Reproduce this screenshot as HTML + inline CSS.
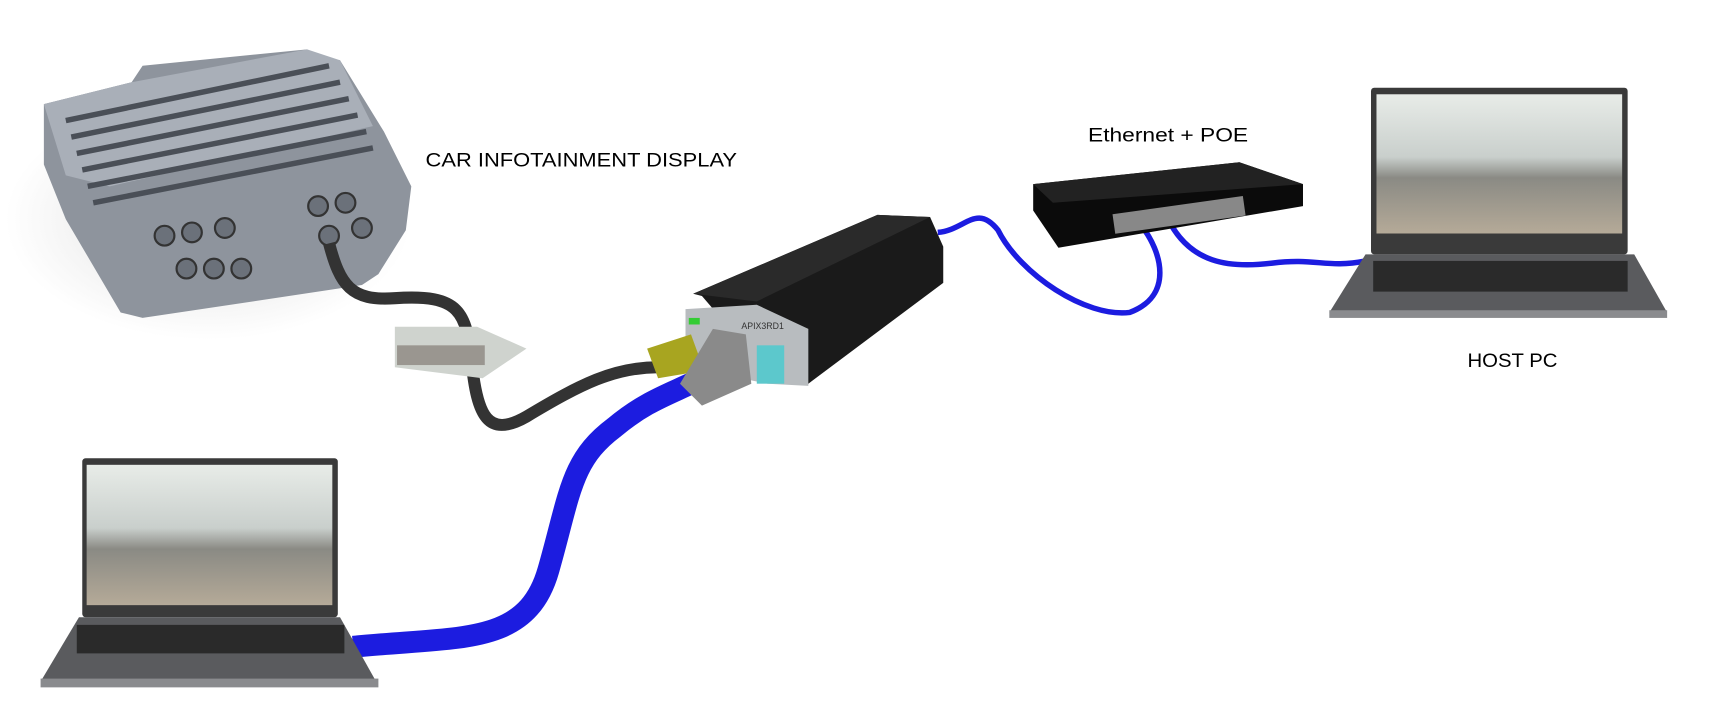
<!DOCTYPE html>
<html><head><style>html,body{margin:0;padding:0;background:#fff;}svg{display:block}</style></head>
<body>
<svg width="1711" height="706" viewBox="0 0 1560 644" preserveAspectRatio="none" xmlns="http://www.w3.org/2000/svg" font-family="Liberation Sans, sans-serif">
<defs>
<linearGradient id="scr" x1="0" y1="0" x2="0" y2="1"><stop offset="0" stop-color="#e8ece8"/><stop offset="0.45" stop-color="#c9cfcc"/><stop offset="0.6" stop-color="#8a8a84"/><stop offset="1" stop-color="#b5aa98"/></linearGradient>
<radialGradient id="sh" cx="0.5" cy="0.5" r="0.5"><stop offset="0" stop-color="#ddd"/><stop offset="1" stop-color="#fff"/></radialGradient>
</defs>
<ellipse cx="190" cy="200" rx="185" ry="110" fill="url(#sh)"/>
<polygon points="40,95 120,75 130,60 280,45 285,55 310,55 350,120 375,170 370,210 345,250 330,260 130,290 110,285 60,200 40,150" fill="#8e949d"/>
<polygon points="40,95 120,75 280,45 310,55 340,115 100,170 60,160" fill="#a9afb8"/>
<g stroke="#4a4f57" stroke-width="5">
<line x1="60" y1="110" x2="300" y2="60"/><line x1="65" y1="125" x2="310" y2="75"/><line x1="70" y1="140" x2="318" y2="90"/><line x1="75" y1="155" x2="326" y2="105"/><line x1="80" y1="170" x2="334" y2="120"/><line x1="85" y1="185" x2="340" y2="135"/>
</g>
<g fill="#6b717a" stroke="#333" stroke-width="2">
<circle cx="150" cy="215" r="9"/><circle cx="175" cy="212" r="9"/><circle cx="205" cy="208" r="9"/><circle cx="170" cy="245" r="9"/><circle cx="195" cy="245" r="9"/><circle cx="220" cy="245" r="9"/><circle cx="290" cy="188" r="9"/><circle cx="315" cy="185" r="9"/><circle cx="300" cy="215" r="9"/><circle cx="330" cy="208" r="9"/>
</g>
<text x="388" y="152" font-size="18" fill="#000" textLength="284" lengthAdjust="spacingAndGlyphs">CAR INFOTAINMENT DISPLAY</text>
<text x="992" y="129" font-size="18" fill="#000" textLength="146" lengthAdjust="spacingAndGlyphs">Ethernet + POE</text>
<text x="1338" y="335" font-size="18" fill="#000" textLength="82" lengthAdjust="spacingAndGlyphs">HOST PC</text>
<path d="M300,222 C310,260 320,275 360,272 C420,268 425,285 430,330 C435,380 445,400 480,380 C530,350 560,335 600,335" fill="none" stroke="#333" stroke-width="11"/>
<polygon points="360,298 435,298 480,318 440,345 360,335" fill="#cfd3ce"/>
<rect x="362" y="315" width="80" height="18" fill="#9a9690"/>
<path d="M322,590 C420,580 480,590 500,520 C520,450 520,420 560,390 C590,365 610,360 640,345" fill="none" stroke="#1c1ce0" stroke-width="20"/>
<path d="M855,212 C880,210 890,185 910,210 C930,250 990,290 1030,285 C1070,270 1060,230 1040,205" fill="none" stroke="#1c1ce0" stroke-width="5"/>
<path d="M1065,200 C1085,240 1120,245 1160,240 C1200,235 1210,245 1245,238" fill="none" stroke="#1c1ce0" stroke-width="5"/>
<polygon points="942,168 1130,148 1188,168 1188,188 965,226 942,192" fill="#0b0b0b"/>
<polygon points="942,168 1130,148 1188,168 960,185" fill="#222"/>
<rect x="1015" y="187" width="120" height="18" fill="#888" transform="rotate(-8 1075 196)"/>
<polygon points="632,268 800,196 848,198 860,225 860,258 737,350 700,340 640,270" fill="#1a1a1a"/>
<polygon points="632,268 800,196 848,198 690,275" fill="#2a2a2a"/>
<polygon points="625,282 690,278 737,300 737,352 700,350 625,335" fill="#b8bcbf"/>
<rect x="690" y="315" width="25" height="35" fill="#5cc8cc"/>
<rect x="628" y="290" width="10" height="6" fill="#3c3"/>
<polygon points="590,318 630,305 642,338 600,345" fill="#a8a520"/>
<polygon points="620,350 650,300 680,305 685,350 640,370" fill="#8a8a8a"/>
<text x="676" y="300" font-size="8" fill="#333">APIX3RD1</text>
<rect x="1250" y="80" width="234" height="152" rx="3" fill="#3a3a3a"/>
<rect x="1255" y="86" width="224" height="127" fill="url(#scr)"/>
<polygon points="1245,232 1490,232 1520,285 1212,285" fill="#5a5b5e"/>
<rect x="1252" y="238" width="232" height="28" fill="#2a2a2a"/>
<rect x="1212" y="283" width="308" height="7" fill="#8a8b8e"/>
<rect x="75" y="418" width="233" height="145" rx="3" fill="#3a3a3a"/>
<rect x="79" y="424" width="224" height="128" fill="url(#scr)"/>
<polygon points="72,563 310,563 342,620 38,620" fill="#5a5b5e"/>
<rect x="70" y="570" width="244" height="26" fill="#2a2a2a"/>
<rect x="37" y="619" width="308" height="8" fill="#8a8b8e"/>
</svg>
</body></html>
